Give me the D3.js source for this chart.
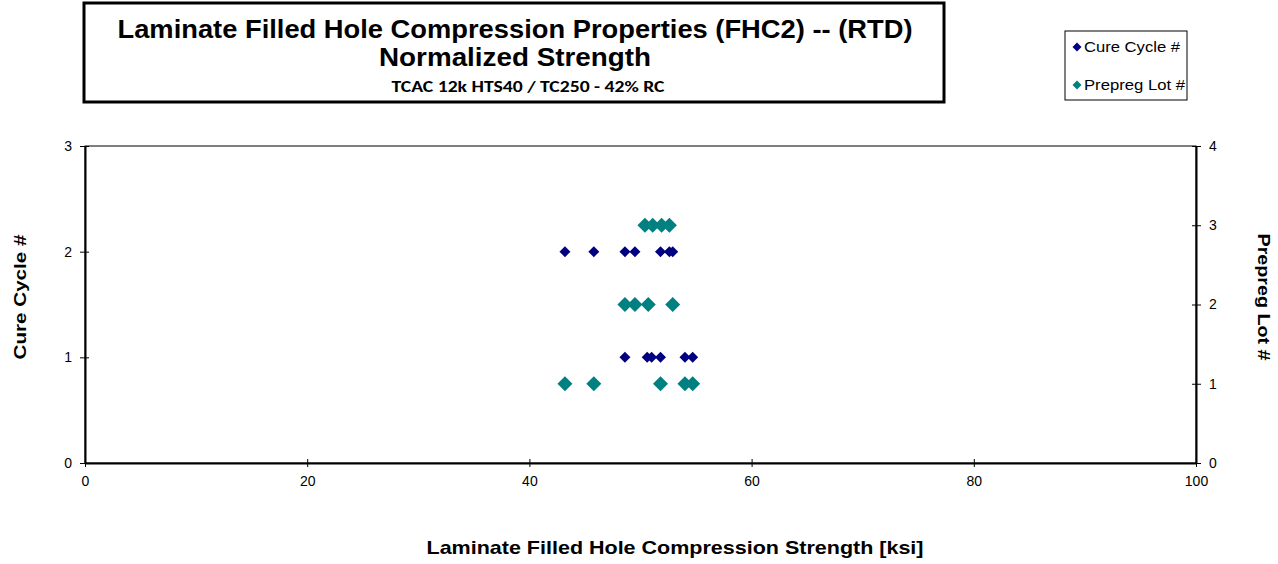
<!DOCTYPE html>
<html><head><meta charset="utf-8">
<script src="https://cdn.jsdelivr.net/npm/d3@7"></script>
<style>body{margin:0;background:#fff}svg{display:block;font-family:"Liberation Sans",Arial,sans-serif}</style>
</head><body><svg id="c" width="1278" height="564"></svg>
<script>
const cureCycle2 = [43.2, 45.8, 48.6, 49.5, 51.8, 52.6, 52.9];
const cureCycle1 = [48.6, 50.6, 51.0, 51.8, 54.0, 54.7];
const prepregLot1 = [43.2, 45.8, 51.8, 54.0, 54.7];
const prepregLot2 = [48.6, 49.5, 50.7, 52.9];
const prepregLot3 = [50.4, 51.1, 51.9, 52.6];
const xTicks = [0, 20, 40, 60, 80, 100];
const yLeftTicks = [0, 1, 2, 3];
const yRightTicks = [0, 1, 2, 3, 4];

const cureData = [...cureCycle1.map(v => ({x: v, y: 1})), ...cureCycle2.map(v => ({x: v, y: 2}))];
const lotData = [...prepregLot1.map(v => ({x: v, y: 1})), ...prepregLot2.map(v => ({x: v, y: 2})), ...prepregLot3.map(v => ({x: v, y: 3}))];

const svg = d3.select("#c");
const L = 85, R = 1196, T = 146, B = 463;
const x = d3.scaleLinear().domain([0, 100]).range([L, R]);
const yL = d3.scaleLinear().domain([0, 3]).range([B, T]);
const yR = d3.scaleLinear().domain([0, 4]).range([B, T]);

svg.append("rect").attr("x", L).attr("y", T).attr("width", R - L).attr("height", B - T)
  .attr("fill", "none").attr("stroke", "#000").attr("stroke-width", 1);

function styleAxis(g) {
  g.selectAll("path").attr("stroke", "#000").attr("stroke-width", 2);
  g.selectAll("line").attr("stroke", "#000");
  g.selectAll("text").attr("font-size", 14).attr("fill", "#000").attr("font-family", "Liberation Sans, Arial, sans-serif");
}
const gx = svg.append("g").attr("transform", `translate(0,${B})`)
  .call(d3.axisBottom(x).tickValues(xTicks).tickSizeInner(5).tickSizeOuter(0).tickPadding(6));
styleAxis(gx);
gx.selectAll(".tick line").attr("y1", -4).attr("y2", 4);
gx.selectAll("text").attr("dy", "0.85em");

const gl = svg.append("g").attr("transform", `translate(${L},0)`)
  .call(d3.axisLeft(yL).tickValues(yLeftTicks).tickFormat(d3.format("d")).tickSizeInner(5).tickSizeOuter(0).tickPadding(8));
styleAxis(gl);
gl.selectAll(".tick line").attr("x1", -5).attr("x2", 4);

const gr = svg.append("g").attr("transform", `translate(${R},0)`)
  .call(d3.axisRight(yR).tickValues(yRightTicks).tickFormat(d3.format("d")).tickSizeInner(5).tickSizeOuter(0).tickPadding(8));
styleAxis(gr);
gr.selectAll(".tick line").attr("x1", -4).attr("x2", 5);

const dia = (s) => `M0,${-s}L${s},0L0,${s}L${-s},0Z`;
svg.append("g").selectAll("path").data(lotData).join("path")
  .attr("d", dia(7.5)).attr("fill", "#008080")
  .attr("transform", d => `translate(${x(d.x)},${yR(d.y)})`);
svg.append("g").selectAll("path").data(cureData).join("path")
  .attr("d", dia(5.5)).attr("fill", "#000080")
  .attr("transform", d => `translate(${x(d.x)},${yL(d.y)})`);

svg.append("text").attr("x", 675).attr("y", 554).attr("text-anchor", "middle")
  .attr("font-size", 19).attr("font-weight", "bold").attr("textLength", 497).attr("lengthAdjust", "spacingAndGlyphs")
  .text("Laminate Filled Hole Compression Strength  [ksi]");
svg.append("text").attr("transform", "translate(26,297) rotate(-90)").attr("text-anchor", "middle")
  .attr("font-size", 17).attr("font-weight", "bold").attr("textLength", 125).attr("lengthAdjust", "spacingAndGlyphs")
  .text("Cure Cycle  #");
svg.append("text").attr("transform", "translate(1258,297) rotate(90)").attr("text-anchor", "middle")
  .attr("font-size", 17).attr("font-weight", "bold").attr("textLength", 127).attr("lengthAdjust", "spacingAndGlyphs")
  .text("Prepreg Lot #");

svg.append("rect").attr("x", 84).attr("y", 3).attr("width", 860).attr("height", 99)
  .attr("fill", "#fff").attr("stroke", "#000").attr("stroke-width", 3);
svg.append("text").attr("x", 515).attr("y", 38).attr("text-anchor", "middle")
  .attr("font-size", 25).attr("font-weight", "bold").attr("textLength", 795).attr("lengthAdjust", "spacingAndGlyphs")
  .text("Laminate Filled Hole Compression Properties (FHC2) -- (RTD)");
svg.append("text").attr("x", 515).attr("y", 66).attr("text-anchor", "middle")
  .attr("font-size", 25).attr("font-weight", "bold").attr("textLength", 272).attr("lengthAdjust", "spacingAndGlyphs")
  .text("Normalized Strength");
svg.append("text").attr("x", 528).attr("y", 92).attr("text-anchor", "middle")
  .attr("font-size", 16).attr("font-weight", "bold").attr("font-family", "Carlito, Calibri, 'Open Sans', sans-serif")
  .attr("textLength", 273).attr("lengthAdjust", "spacingAndGlyphs")
  .text("TCAC 12k HTS40 / TC250 - 42% RC");

svg.append("rect").attr("x", 1065).attr("y", 31).attr("width", 122).attr("height", 69)
  .attr("fill", "#fff").attr("stroke", "#000").attr("stroke-width", 1);
const leg = [{name: "Cure Cycle #", color: "#000080", y: 47, w: 96}, {name: "Prepreg Lot #", color: "#008080", y: 85, w: 101}];
leg.forEach(l => {
  svg.append("path").attr("d", dia(4.5)).attr("fill", l.color).attr("transform", `translate(1077,${l.y})`);
  svg.append("text").attr("x", 1084).attr("y", l.y + 5).attr("font-size", 14)
    .attr("textLength", l.w).attr("lengthAdjust", "spacingAndGlyphs").text(l.name);
});
</script></body></html>
